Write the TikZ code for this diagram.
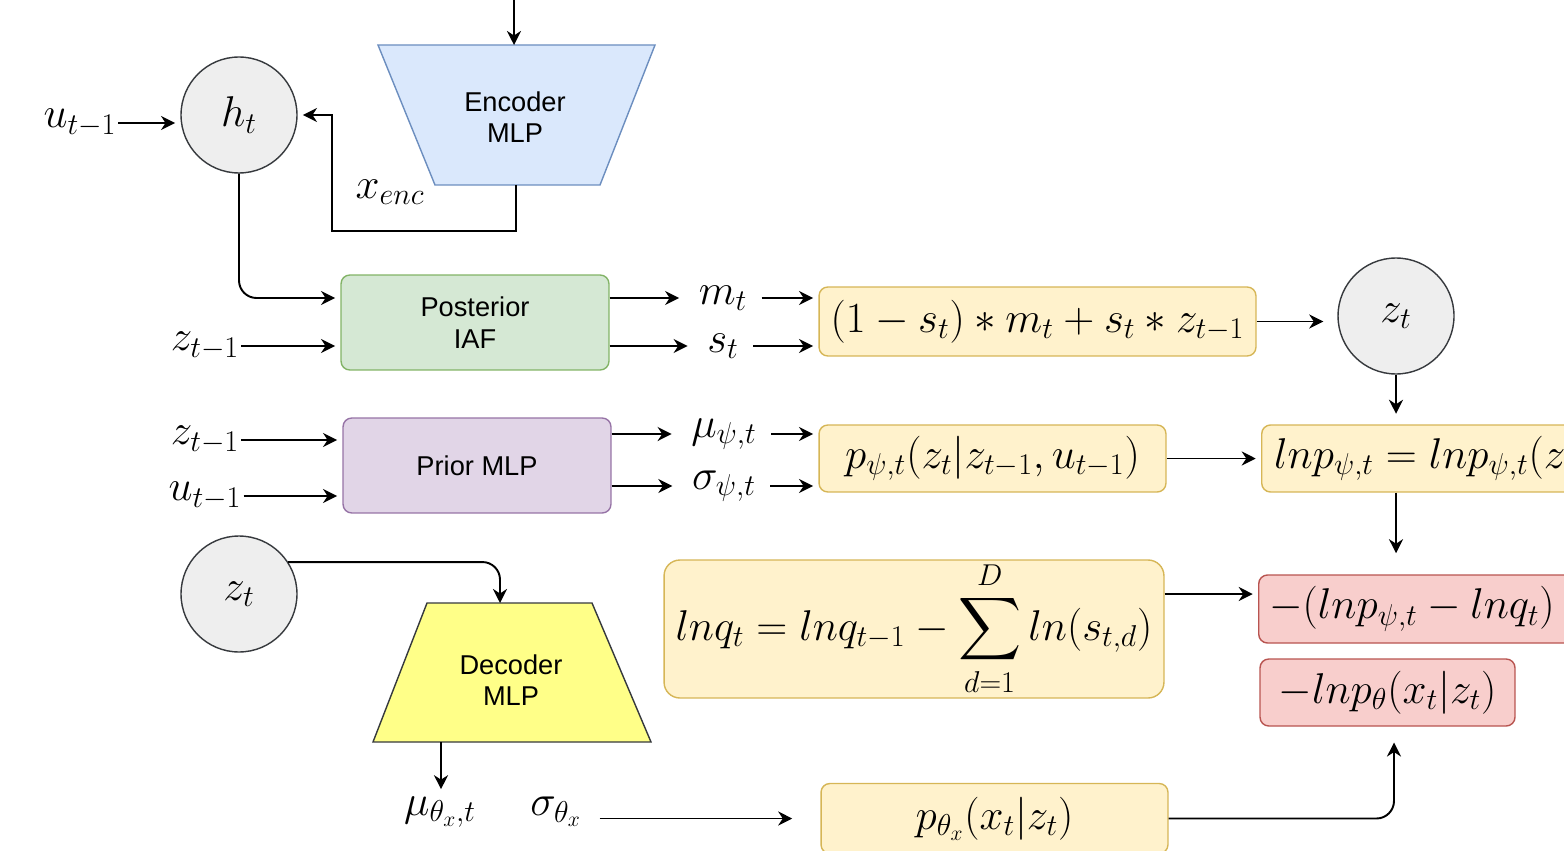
\RequirePackage{fix-cm}
\documentclass[tikz,border=0pt]{standalone}
\usepackage{exscale}
\usepackage{fontspec}
\newfontfamily\labfont{Liberation Sans}
\usetikzlibrary{arrows.meta}

\definecolor{encfill}{HTML}{DAE8FC}
\definecolor{encline}{HTML}{6C8EBF}
\definecolor{postfill}{HTML}{D5E8D4}
\definecolor{postline}{HTML}{82B366}
\definecolor{priorfill}{HTML}{E1D5E7}
\definecolor{priorline}{HTML}{9673A6}
\definecolor{eqfill}{HTML}{FFF2CC}
\definecolor{eqline}{HTML}{D6B656}
\definecolor{lossfill}{HTML}{F8CECC}
\definecolor{lossline}{HTML}{B85450}
\definecolor{decfill}{HTML}{FFFF88}
\definecolor{nodefill}{HTML}{EEEEEE}
\definecolor{nodeline}{HTML}{36393D}

\newcommand{\mathsz}{\fontsize{24.5}{29}\selectfont}
\newcommand{\labsz}{\labfont\fontsize{15.5}{18}\selectfont}

\begin{document}
\begin{tikzpicture}[x=0.02cm, y=-0.02cm, >={Stealth[length=8pt,width=8pt]},
    arr/.style={->, line width=1.1pt, shorten >=3pt},
    var/.style={circle, draw=nodeline, fill=nodefill, line width=0.8pt, minimum size=2.32cm, font=\mathsz},
    block/.style={draw, rounded corners=5pt, line width=0.8pt, align=center, font=\labsz},
    eqbox/.style={draw=eqline, fill=eqfill, rounded corners=5pt, line width=0.8pt, font=\mathsz, inner xsep=6pt},
    lossbox/.style={draw=lossline, fill=lossfill, rounded corners=5pt, line width=0.8pt, font=\mathsz, inner xsep=6pt},
    inlab/.style={font=\mathsz, inner xsep=1pt, inner ysep=0pt},
    outlab/.style={font=\mathsz, inner xsep=8pt, inner ysep=0pt}]
    \useasboundingbox (0,0) rectangle (1564,851);

    % Encoder
    \draw[draw=encline, fill=encfill, line width=0.8pt] (378,45) -- (655,45) -- (600,185) -- (435,185) -- cycle;
    \node[align=center, font=\labsz] (enc) at (515,117) {Encoder\\MLP};
    \coordinate (xin) at (514,0);
    \coordinate (enctop) at (514,45);
    \coordinate (encbot) at (516,185);
    \draw[arr, shorten >=0pt] (xin) -- (enctop);

    % Hidden state
    \node[var] (ht) at (239,115) {$h_t$};
    \node[inlab] (ul) at (80,123) {$u_{t-1}$};
    \draw[arr] (ul.east) -- (ul.east -| ht.west);
    \node[font=\mathsz] (xenc) at (390,192) {$x_{enc}$};
    \draw[arr] (encbot) -- ++(0,46) -| ([xshift=0.68cm]ht.east) -- (ht.east);

    % Posterior
    \node[block, draw=postline, fill=postfill, minimum width=5.36cm, minimum height=1.9cm] (post) at (475,322.5) {Posterior\\IAF};
    \draw[arr, rounded corners=10pt] (ht.south) |- ([yshift=0.49cm]post.west);
    \node[inlab] (zp) at (205,346) {$z_{t-1}$};
    \draw[arr] (zp.east) -- (zp.east -| post.west);
    \node[outlab] (mt) at (723,298) {$m_t$};
    \node[outlab] (st) at (723,346) {$s_t$};
    \draw[arr] (mt.west -| post.east) -- (mt.west);
    \draw[arr] (st.west -| post.east) -- (st.west);

    \node[eqbox, minimum width=8.74cm, minimum height=1.38cm] (eqz) at (1037.5,321.5) {$(1-s_t)*m_t+s_t*z_{t-1}$};
    \draw[arr] (mt.east) -- (mt.east -| eqz.west);
    \draw[arr] (st.east) -- (st.east -| eqz.west);
    \node[var] (zt) at (1396,316) {$z_t$};
    \draw[arr, shorten >=8pt] (eqz.east) -- (eqz.east -| zt.west);

    % Prior
    \node[block, draw=priorline, fill=priorfill, minimum width=5.36cm, minimum height=1.9cm] (prior) at (477,465.5) {Prior MLP};
    \node[inlab] (zq) at (205,440) {$z_{t-1}$};
    \node[inlab] (uq) at (205,496) {$u_{t-1}$};
    \draw[arr] (zq.east) -- (zq.east -| prior.west);
    \draw[arr] (uq.east) -- (uq.east -| prior.west);
    \node[outlab] (mup) at (724,434) {$\mu_{\psi,t}$};
    \node[outlab] (sgp) at (724,486) {$\sigma_{\psi,t}$};
    \draw[arr] (mup.west -| prior.east) -- (mup.west);
    \draw[arr] (sgp.west -| prior.east) -- (sgp.west);

    \node[eqbox, minimum width=6.94cm, minimum height=1.34cm] (prp) at (992.5,458.5) {$p_{\psi,t}(z_t|z_{t-1},u_{t-1})$};
    \draw[arr] (mup.east) -- (mup.east -| prp.west);
    \draw[arr] (sgp.east) -- (sgp.east -| prp.west);
    \node[eqbox, anchor=west, minimum height=1.34cm, minimum width=6.9cm, text width=6.4cm, align=left] (lnp) at (1261,458.5) {$lnp_{\psi,t}=lnp_{\psi,t}(z$};
    \draw[arr] (prp.east) -- (prp.east -| lnp.west);
    \draw[arr, shorten >=6pt] (zt.south) -- (zt.south |- lnp.north);

    % Loss terms
    \node[lossbox, anchor=west, minimum height=1.36cm, minimum width=6.4cm, text width=6.0cm, align=left] (lossa) at (1258,609) {$-(lnp_{\psi,t}-lnq_t)$};
    \node[lossbox, minimum width=5.1cm, minimum height=1.34cm] (lossb) at (1387.5,692.5) {$-lnp_\theta(x_t|z_t)$};
    \draw[arr, shorten >=12pt] (zt.south |- lnp.south) -- (zt.south |- lossa.north);
    \node[eqbox, rounded corners=9pt, minimum width=10cm, minimum height=2.76cm, inner xsep=2pt, inner ysep=0pt] (lnq) at (914,629) {$\displaystyle lnq_t=lnq_{t-1}-\sum_{d=1}^{D}ln(s_{t,d})$};
    \draw[arr] ([yshift=0.7cm]lnq.east) -- ([yshift=0.7cm]lnq.east -| lossa.west);

    % Decoder
    \node[var] (zb) at (239,594) {$z_t$};
    \draw[draw=nodeline, fill=decfill, line width=0.8pt] (427,603) -- (592,603) -- (651,742) -- (373,742) -- cycle;
    \node[align=center, font=\labsz] (dec) at (511,680) {Decoder\\MLP};
    \coordinate (dectop) at (500,603);
    \coordinate (decbot) at (441,742);
    \draw[arr, rounded corners=10pt, shorten >=0pt] (zb.33) -| (dectop);
    \node[font=\mathsz, inner sep=1pt] (mux) at (440,812) {$\mu_{\theta_x,t}$};
    \node[font=\mathsz, inner xsep=10pt] (sgx) at (556,812) {$\sigma_{\theta_x}$};
    \draw[arr] (decbot) -- (decbot |- mux.north);
    \node[eqbox, minimum width=6.94cm, minimum height=1.4cm] (pdec) at (994.5,818.5) {$p_{\theta_x}(x_t|z_t)$};
    \draw[arr, shorten >=16pt] (sgx.east |- pdec.west) -- (pdec.west);
    \draw[arr, rounded corners=10pt, shorten >=9pt] (pdec.east) -| ([xshift=0.13cm]lossb.south);
\end{tikzpicture}
\end{document}
